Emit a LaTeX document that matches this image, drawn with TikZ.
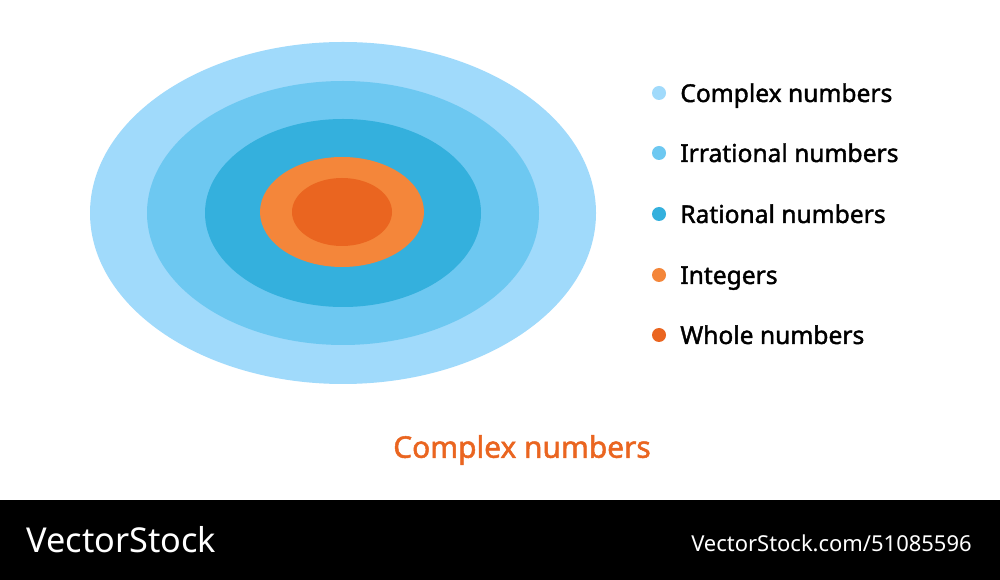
\documentclass[tikz,border=0pt]{standalone}
\usepackage{fontspec}
\setmainfont{Noto Sans}
\newfontfamily\medfont[FakeBold=1.6]{Noto Sans}
\begin{document}
\begin{tikzpicture}[x=0.02cm,y=-0.02cm]
\definecolor{cA}{HTML}{A0DAFB}
\definecolor{cB}{HTML}{6DC8F1}
\definecolor{cC}{HTML}{34B0DD}
\definecolor{cD}{HTML}{F4863A}
\definecolor{cE}{HTML}{EA6520}
\tikzset{lab/.style={anchor=base west,font=\medfont\fontsize{14}{16}\selectfont,text=black,inner sep=0pt},
dot/.style={circle,minimum size=14*0.02cm,inner sep=0pt}}
\useasboundingbox (0,0) rectangle (1000,580);
\fill[white] (0,0) rectangle (1000,580);
\fill[cA] (343,213) ellipse [x radius=253,y radius=171];
\fill[cB] (343,213) ellipse [x radius=196,y radius=132];
\fill[cC] (343,213) ellipse [x radius=138,y radius=94];
\fill[cD] (342,212) ellipse [x radius=82,y radius=55];
\fill[cE] (342,212) ellipse [x radius=50,y radius=34];
\foreach \c/\y/\t/\n in {cA/93/Complex numbers/a,cB/153/Irrational numbers/b,cC/214/Rational numbers/c,cD/275/Integers/d,cE/335/Whole numbers/e}{
  \node[dot,fill=\c] (d\n) at (659,\y) {};
  \node[lab] (t\n) at (680,\y+9) {\t};
}
\node[text=cE,font=\medfont\fontsize{17}{20}\selectfont] (title) at (522,450) {Complex numbers};
\fill[black] (0,500) rectangle (1000,580);
\node[anchor=west,text=white,font=\fontsize{19.5}{22}\selectfont,inner sep=0pt] (vs) at (26,540) {VectorStock};
\node[anchor=east,text=white,font=\fontsize{12.5}{15}\selectfont,inner sep=0pt] (url) at (972,543) {VectorStock.com/51085596};
\end{tikzpicture}
\end{document}
